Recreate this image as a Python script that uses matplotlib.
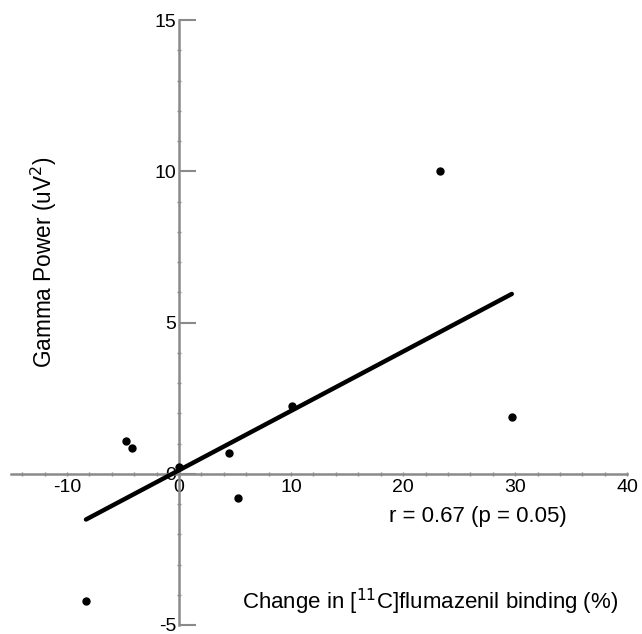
import numpy as np
import matplotlib
matplotlib.use("Agg")
import matplotlib.pyplot as plt
from matplotlib.ticker import MultipleLocator

plt.rcParams.update({"font.family": ["Liberation Sans", "DejaVu Sans"], "axes.unicode_minus": False})

# change in [11C]flumazenil binding (%) vs gamma power (uV^2)
binding = [-8.3, -4.7, -4.2, 0.0, 4.5, 5.3, 10.1, 23.3, 29.7]
gamma = [-4.2, 1.07, 0.84, 0.24, 0.7, -0.8, 2.25, 10.0, 1.89]
x_ticks = [-10, 0, 10, 20, 30, 40]
y_ticks = [-5, 0, 5, 10, 15]

AX = "#8a8a8a"
fig = plt.figure(figsize=(6.42, 6.34), dpi=100)
ax = fig.add_axes([0.017, 0.0142, 0.960, 0.954])

x = np.array(binding); y = np.array(gamma)
m, b = np.polyfit(x, y, 1)
xl = np.array([x.min(), x.max()])
ax.plot(xl, m*xl+b, color="k", lw=3.2, solid_capstyle="round", zorder=3)
ax.plot(x, y, "o", color="k", ms=5, zorder=4)

ax.set_xlim(-15, 40); ax.set_ylim(-5, 15)
for s in ("top", "right"): ax.spines[s].set_visible(False)
for s in ("left", "bottom"):
    ax.spines[s].set_position(("data", 0)); ax.spines[s].set_color(AX); ax.spines[s].set_linewidth(1.8)
ax.set_xticks(x_ticks); ax.set_yticks(y_ticks)
ax.xaxis.set_minor_locator(MultipleLocator(2)); ax.yaxis.set_minor_locator(MultipleLocator(1))
ax.tick_params(axis="y", which="major", direction="in", length=12, width=1.5, color=AX, labelsize=14, pad=2)
ax.tick_params(axis="y", which="minor", direction="inout", length=3, width=1, color=AX)
ax.tick_params(axis="x", which="major", direction="inout", length=3, width=1, color=AX, labelsize=14, pad=2)
ax.tick_params(axis="x", which="minor", direction="inout", length=3, width=1, color=AX)

ax.text(18.75, -1.4, "r = 0.67 (p = 0.05)", fontsize=16, va="center", ha="left")
ax.text(5.6, -4.25, "Change in [$^{11}$C]flumazenil binding (%)", fontsize=16, va="center", ha="left")
ax.text(-12.05, 7.0, "Gamma Power (uV$^2$)", fontsize=16.3, rotation=90, va="center", ha="center")

fig.savefig("out.png", dpi=100)
